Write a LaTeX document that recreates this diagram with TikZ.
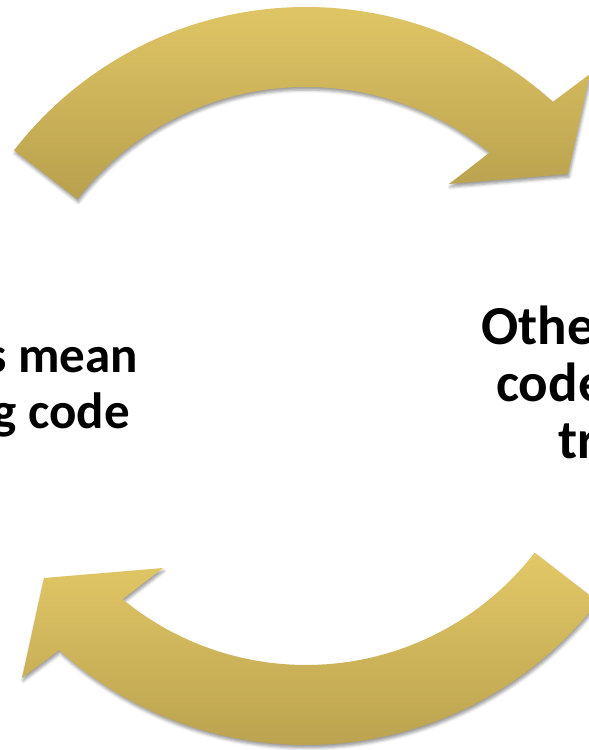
\documentclass[tikz,border=0pt]{standalone}
\usepackage{fontspec}
\setmainfont{Carlito}
\usetikzlibrary{shadows.blur}

\definecolor{goldlight}{RGB}{226,200,102}
\definecolor{golddark}{RGB}{184,160,78}

\tikzset{
  cyclearrow/.style={
    top color=goldlight, bottom color=golddark, draw=none,
    blur shadow={shadow xshift=1pt, shadow yshift=-3pt,
                 shadow blur radius=3pt, shadow opacity=40}
  },
  cycletext/.style={inner sep=0pt, text=black},
  lefttext/.style={cycletext, font=\bfseries\fontsize{51}{57}\selectfont},
  righttext/.style={cycletext, font=\bfseries\fontsize{55}{57}\selectfont}
}

\begin{document}
\begin{tikzpicture}[x=1pt, y=1pt]
  % frame, centred on the middle of the cycle
  \useasboundingbox (-306,-374) rectangle (283,376);
  \clip (-306,-374) rectangle (283,376);

  % upper arrow, turning clockwise towards the right
  \path[cyclearrow]
    (142.3:369) arc[start angle=142.3, end angle=48, radius=369]
    -- (284,302) -- (262,202) -- (143,192)
    -- (50.6:289) arc[start angle=50.6, end angle=142.3, radius=289]
    -- cycle;

  % lower arrow, turning back towards the left
  \path[cyclearrow]
    (322.3:369) arc[start angle=322.3, end angle=228, radius=369]
    -- (-284,-302) -- (-262,-202) -- (-143,-192)
    -- (230.6:289) arc[start angle=230.6, end angle=322.3, radius=289]
    -- cycle;

  % labels on both sides of the cycle
  \node[lefttext, anchor=base east] (left1) at (-168,4) {s mean};
  \node[lefttext, anchor=base east] (left2) at (-176,-52) {g code};
  \node[righttext, anchor=base west] (right1) at (175,32) {Othe};
  \node[righttext, anchor=base west] (right2) at (190,-25) {code};
  \node[righttext, anchor=base west] (right3) at (252,-82) {tr};
\end{tikzpicture}
\end{document}
